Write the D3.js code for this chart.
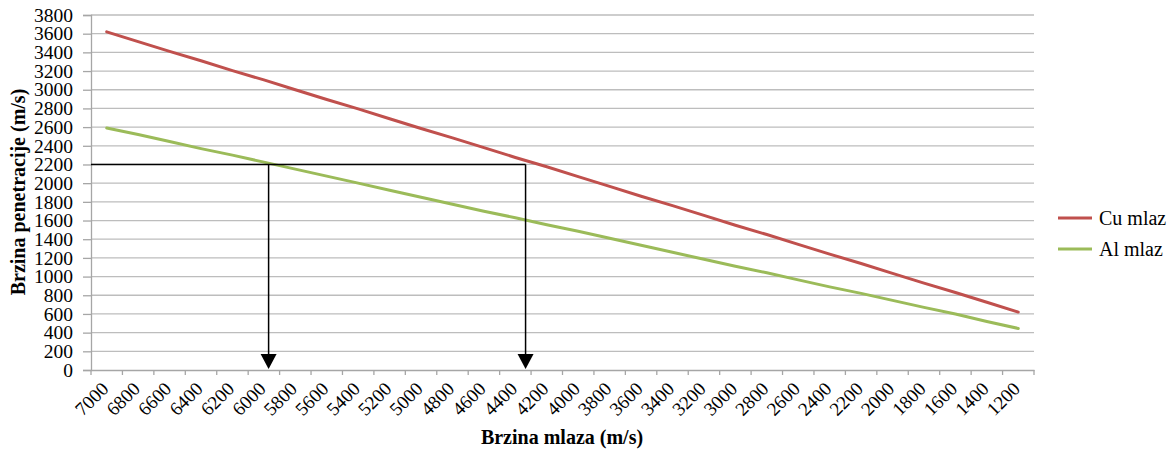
<!DOCTYPE html>
<html><head><meta charset="utf-8">
<script src="https://cdn.jsdelivr.net/npm/d3@7"></script>
<style>body{margin:0;background:#fff}svg{display:block}</style>
</head><body><svg id="c" width="1173" height="452"></svg>
<script>
const categories = [7000,6800,6600,6400,6200,6000,5800,5600,5400,5200,5000,4800,4600,4400,4200,4000,3800,3600,3400,3200,3000,2800,2600,2400,2200,2000,1800,1600,1400,1200];
const cuValues = [3620,3515,3410,3310,3205,3105,3000,2895,2795,2690,2585,2485,2380,2275,2175,2070,1965,1860,1760,1655,1550,1450,1345,1240,1140,1035,930,830,725,620];
const alValues = [2590,2520,2445,2370,2300,2225,2150,2075,2000,1925,1850,1775,1700,1630,1555,1485,1410,1335,1260,1185,1110,1040,965,890,820,745,670,600,520,445];
const yTicks = [0,200,400,600,800,1000,1200,1400,1600,1800,2000,2200,2400,2600,2800,3000,3200,3400,3600,3800];
const seriesNames = ["Cu mlaz","Al mlaz"];
const seriesColors = ["#c0504d","#9bbb59"];
const guideLevel = 2200;
const guideSpeeds = [5970, 4335];

const svg = d3.select("#c");
const m = {l:91, r:1034, t:15, b:370};
const font = "'Liberation Serif','Times New Roman',serif";

const x = d3.scaleBand().domain(categories).range([m.l, m.r]).padding(0);
const xc = d => x(d) + x.bandwidth()/2;
const xs = d3.scaleLinear().domain([categories[0], categories[categories.length-1]])
  .range([xc(categories[0]), xc(categories[categories.length-1])]);
const y = d3.scaleLinear().domain([0,3800]).range([m.b, m.t]);

// gridlines
svg.append("g").selectAll("line").data(yTicks.filter(d=>d>0)).join("line")
  .attr("x1", m.l).attr("x2", m.r).attr("y1", d=>y(d)).attr("y2", d=>y(d))
  .attr("stroke","#bdbdbd").attr("stroke-width",1.3);

// y axis
const ya = svg.append("g").attr("transform",`translate(${m.l},0)`)
  .call(d3.axisLeft(y).tickValues(yTicks).tickFormat(d=>String(d)).tickSize(8).tickPadding(10));
ya.select(".domain").attr("stroke","#a6a6a6").attr("stroke-width",1.3);
ya.selectAll(".tick line").attr("stroke","#a6a6a6").attr("stroke-width",1.3);
ya.selectAll("text").attr("font-family",font).attr("font-size",19.5).attr("fill","#000").attr("dy","0.32em");

// x axis
const xa = svg.append("g").attr("transform",`translate(0,${m.b})`)
  .call(d3.axisBottom(x).tickSize(0).tickFormat(d=>String(d)));
xa.select(".domain").attr("stroke","#a6a6a6").attr("stroke-width",1.3);
xa.selectAll(".tick text").attr("font-family",font).attr("font-size",19).attr("fill","#000")
  .attr("text-anchor","end").attr("dy",null).attr("y",null)
  .attr("transform","translate(3,20) rotate(-45)");
const bounds = categories.map(d=>x(d)).concat([m.r]);
svg.append("g").selectAll("line").data(bounds).join("line")
  .attr("x1",d=>d).attr("x2",d=>d).attr("y1",m.b).attr("y2",m.b+5)
  .attr("stroke","#a6a6a6").attr("stroke-width",1.3);

// series
const line = d3.line().x((d,i)=>xc(categories[i])).y(d=>y(d));
[cuValues, alValues].forEach((vals,k)=>{
  svg.append("path").datum(vals).attr("d",line).attr("fill","none")
    .attr("stroke",seriesColors[k]).attr("stroke-width",3).attr("stroke-linejoin","round").attr("stroke-linecap","round");
});

// guide lines
const g = svg.append("g");
g.append("line").attr("x1",m.l).attr("x2",xs(guideSpeeds[1])).attr("y1",y(guideLevel)).attr("y2",y(guideLevel))
  .attr("stroke","#000").attr("stroke-width",1.5);
guideSpeeds.forEach(s=>{
  const gx = xs(s);
  g.append("line").attr("x1",gx).attr("x2",gx).attr("y1",y(guideLevel)).attr("y2",y(0)-16)
    .attr("stroke","#000").attr("stroke-width",1.5);
  g.append("path").attr("d",`M${gx-8},${y(0)-16}L${gx+8},${y(0)-16}L${gx},${y(0)-1}Z`).attr("fill","#000");
});

// axis titles
svg.append("text").attr("x",562).attr("y",444).attr("text-anchor","middle")
  .attr("font-family",font).attr("font-size",20).attr("font-weight","bold").text("Brzina mlaza (m/s)");
svg.append("text").attr("transform","translate(25,192) rotate(-90)").attr("text-anchor","middle")
  .attr("font-family",font).attr("font-size",20).attr("font-weight","bold").text("Brzina penetracije  (m/s)");

// legend
seriesNames.forEach((n,k)=>{
  const ly = 218 + k*31;
  svg.append("line").attr("x1",1058).attr("x2",1092).attr("y1",ly).attr("y2",ly)
    .attr("stroke",seriesColors[k]).attr("stroke-width",3);
  svg.append("text").attr("x",1099).attr("y",ly).attr("dy","0.35em")
    .attr("font-family",font).attr("font-size",20).text(n);
});
</script></body></html>
